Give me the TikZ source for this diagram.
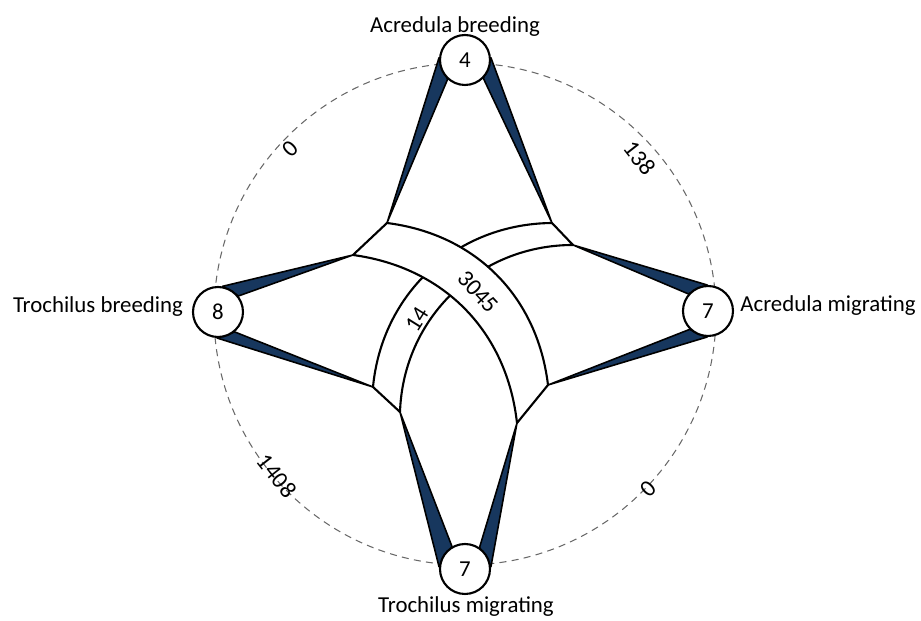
\documentclass[tikz,border=0pt]{standalone}
\usepackage{fontspec}
\setmainfont{Carlito}
\usetikzlibrary{positioning}
\definecolor{WedgeBlue}{RGB}{23,55,94}
\definecolor{RingGray}{RGB}{105,105,105}
\pgfdeclarelayer{background}
\pgfsetlayers{background,main}

\begin{document}
\begin{tikzpicture}[x=0.02cm,y=0.02cm,
nd/.style={circle,draw=black,line width=1.2pt,fill=white,minimum size=1cm,inner sep=0pt,font=\fontsize{13}{15}\selectfont},
lbl/.style={font=\fontsize{13}{15}\selectfont,anchor=base,inner sep=0pt},
cnt/.style={font=\fontsize{13.5}{15}\selectfont,inner sep=0pt},
rib/.style={draw=black,line width=1.2pt,fill=white,line join=round},
wdg/.style={fill=WedgeBlue,draw=black,line width=0.9pt,line join=round}
]
\useasboundingbox (-465,-308) rectangle (456,313);
% states
\node[nd] (ab) at (0,253) {4};
\node[nd] (am) at (243,2) {7};
\node[nd] (tm) at (0,-256) {7};
\node[nd] (tb) at (-247,1) {8};
\node[lbl] (lab) at (-10,280) {Acredula breeding};
\node[lbl] (lam) at (363,1) {Acredula migrating};
\node[lbl] (ltm) at (1,-300) {Trochilus migrating};
\node[lbl] (ltb) at (-367,0) {Trochilus breeding};
% inner corners
\coordinate (p1) at (-78,90);
\coordinate (p2) at (-112,58);
\coordinate (p3) at (-92,-74);
\coordinate (p4) at (-65,-99);
\coordinate (p5) at (52,-110);
\coordinate (p6) at (83,-72);
\coordinate (p7) at (108,68);
\coordinate (p8) at (87,90);
\begin{pgfonlayer}{background}
% ring
\draw[RingGray,dash pattern=on 4pt off 3pt,line width=0.6pt] (0,-1) circle (251);
% spokes
\filldraw[wdg] (ab.175) -- (p1) -- (ab.-132) -- cycle;
\filldraw[wdg] (ab.5) -- (p8) -- (ab.-45) -- cycle;
\filldraw[wdg] (tb.80) -- (p2) -- (tb.38) -- cycle;
\filldraw[wdg] (tb.-92) -- (p3) -- (tb.-50) -- cycle;
\filldraw[wdg] (am.92) -- (p7) -- (am.139) -- cycle;
\filldraw[wdg] (am.-92) -- (p6) -- (am.-135) -- cycle;
\filldraw[wdg] (tm.175) -- (p4) -- (tm.120) -- cycle;
\filldraw[wdg] (tm.5) -- (p5) -- (tm.56) -- cycle;
\end{pgfonlayer}
% ribbons
\draw[rib] (p3) to[bend left=42] (p8) -- (p7) to[bend right=44] (p4) -- cycle;
\draw[rib] (p1) to[bend left=38] (p6) -- (p5) to[bend right=38] (p2) -- cycle;
\node[cnt,rotate=58] (n14) at (-48,-6) {14};
\node[cnt,rotate=-47] (n3045) at (13,21) {3045};
% ring counts
\node[cnt,rotate=45] (c1) at (-175,164) {0};
\node[cnt,rotate=-52] (c2) at (175,155) {138};
\node[cnt,rotate=-52] (c3) at (-188,-163) {1408};
\node[cnt,rotate=45] (c4) at (183,-176) {0};
\end{tikzpicture}
\end{document}
